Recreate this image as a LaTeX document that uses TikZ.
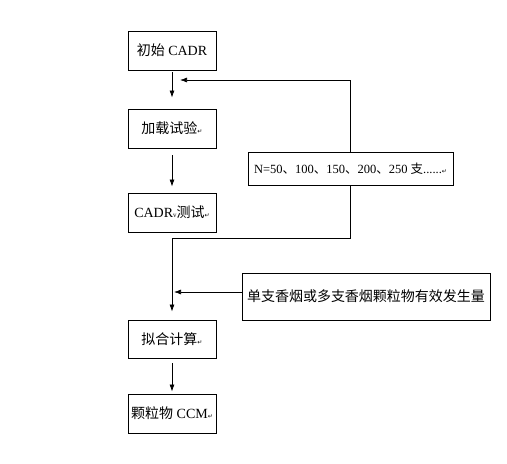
\documentclass[tikz,border=0pt]{standalone}
\usepackage{fontspec}
\usetikzlibrary{arrows.meta}
\setmainfont{Liberation Serif}
\newfontfamily\cjk{Noto Sans CJK SC}
\newfontfamily\symfont{DejaVu Sans}
\newcommand{\pmark}{{\symfont\fontsize{6}{6}\selectfont ↵}}
\begin{document}
\begin{tikzpicture}[
  x=1pt, y=-1pt,
  box/.style={draw, line width=0.9pt, fill=white, font=\fontsize{14}{16}\selectfont,
              minimum width=88pt, minimum height=39pt, inner sep=2pt},
  wbox/.style={box, minimum width=205pt, minimum height=33pt,
               font=\fontsize{12.5}{15}\selectfont},
  arrow/.style={-{Latex[length=7pt, width=5pt]}, line width=0.7pt},
  link/.style={line width=0.7pt},
  ]
\useasboundingbox (0,0) rectangle (507,464);

% ---- Main chain ------------------------------------------------------------
\node[box] (init) at (172, 50.5) {{\cjk 初始} CADR};
\node[box] (load) at (172, 128.5) {{\cjk 加载试验}\pmark};
\node[box] (test) at (172, 212.5) {CADR{\fontsize{7}{7}\selectfont v}{\cjk 测试}\pmark};
\node[box, minimum height=38pt] (fit) at (172, 339) {{\cjk 拟合计算}\pmark};
\node[box] (ccm) at (172, 413.5) {{\cjk 颗粒物} CCM\pmark};

\draw[arrow, shorten <=2pt, shorten >=11pt] (init) -- (load);
\draw[arrow, shorten <=7pt, shorten >=6pt] (load) -- (test);
\draw[arrow, shorten <=5pt, shorten >=2pt] (fit) -- (ccm);

% ---- Loop over cigarette count ---------------------------------------------
\node[wbox] (count) at (350.5, 168.5)
  {N=50{\cjk 、}100{\cjk 、}150{\cjk 、}200{\cjk 、}250 {\cjk 支}......\pmark};
\coordinate (back) at (180, 80);
\coordinate (join) at (172, 238);
\draw[arrow] (count.north) |- (back);
\draw[link] (count.south) |- (join);
\draw[arrow, shorten >=8pt] (join) -- (fit);

% ---- Emission input --------------------------------------------------------
\node[box, minimum width=248pt, minimum height=47pt] (emit) at (366, 296.5)
  {\cjk 单支香烟或多支香烟颗粒物有效发生量};
\coordinate (merge) at (174, 292);
\draw[arrow] (emit.west |- merge) -- (merge);

\end{tikzpicture}
\end{document}
